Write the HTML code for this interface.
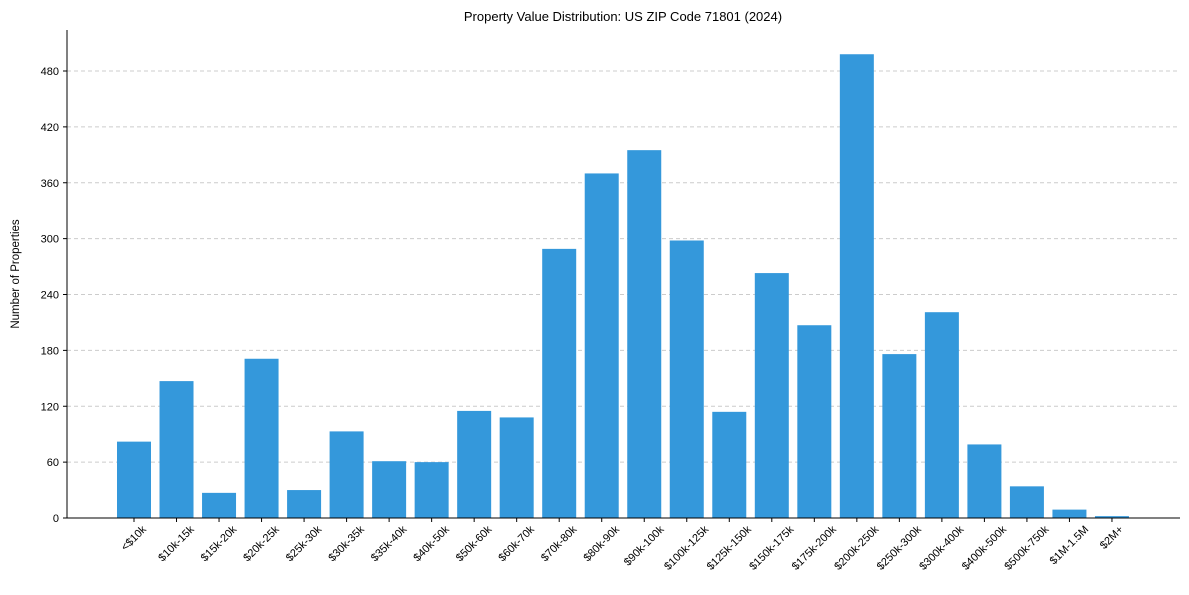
<!DOCTYPE html>
<html><head><meta charset="utf-8"><style>
body{margin:0;background:#fff}
svg text{font-family:"Liberation Sans",Arial,sans-serif;fill:#000}
</style></head><body>
<svg id="chart" width="1189" height="590">
<text x="623" y="21" font-size="13" text-anchor="middle">Property Value Distribution: US ZIP Code 71801 (2024)</text>
<text transform="translate(19,274) rotate(-90)" font-size="11.5" text-anchor="middle">Number of Properties</text>
<g id="grid"></g><g id="bars"></g><g id="axes"></g>
</svg>
<script>
const categories=["<$10k","$10k-15k","$15k-20k","$20k-25k","$25k-30k","$30k-35k","$35k-40k","$40k-50k","$50k-60k","$60k-70k","$70k-80k","$80k-90k","$90k-100k","$100k-125k","$125k-150k","$150k-175k","$175k-200k","$200k-250k","$250k-300k","$300k-400k","$400k-500k","$500k-750k","$1M-1.5M","$2M+"];
const values=[82,147,27,171,30,93,61,60,115,108,289,370,395,298,114,263,207,498,176,221,79,34,9,2];
const yTicks=[0,60,120,180,240,300,360,420,480];
const NS="http://www.w3.org/2000/svg";
const x0=67,x1=1180,yBase=518,pxPerUnit=(518-71)/480;
const step=42.52,firstC=134,bw=34;
const xs=i=>firstC+i*step;
const ys=v=>yBase-v*pxPerUnit;
function mk(t,a,p){const e=document.createElementNS(NS,t);for(const k in a)e.setAttribute(k,a[k]);p.appendChild(e);return e;}
const grid=document.getElementById('grid'),bars=document.getElementById('bars'),axes=document.getElementById('axes');
yTicks.forEach(v=>{
 if(v>0){const g=mk('line',{x1:x0,x2:x1,y1:ys(v),y2:ys(v),stroke:'#ccc','stroke-dasharray':'4,3','stroke-width':1},grid);
 
 }
 const tk=mk('line',{x1:x0-4,x2:x0,y1:ys(v),y2:ys(v),stroke:'#000'},axes);
 
 
 const t=mk('text',{x:x0-8,y:ys(v)+4,'font-size':11,'text-anchor':'end'},axes);t.textContent=v;
 
 
});
values.forEach((v,i)=>{
 const r=mk('rect',{x:xs(i)-bw/2,y:ys(v),width:bw,height:v*pxPerUnit,fill:'#3498db'},bars);
 
 
});
categories.forEach((c,i)=>{
 const x=xs(i);
 const tk=mk('line',{x1:x,x2:x,y1:yBase,y2:yBase+4,stroke:'#000'},axes);
 
 
 const t=mk('text',{x:0,y:0,'font-size':11,'text-anchor':'middle','dominant-baseline':'central'},axes);
 t.textContent=c;
 
 
 const w=t.getComputedTextLength();const h=(w+11)*0.7071;
 t.setAttribute('transform',`translate(${x},${yBase+6+h/2}) rotate(-45)`);
});
const l1=mk('line',{x1:x0,x2:x0,y1:30,y2:yBase,stroke:'#000'},axes);


const l2=mk('line',{x1:x0,x2:x1,y1:yBase,y2:yBase,stroke:'#000'},axes);


</script>
</body></html>
